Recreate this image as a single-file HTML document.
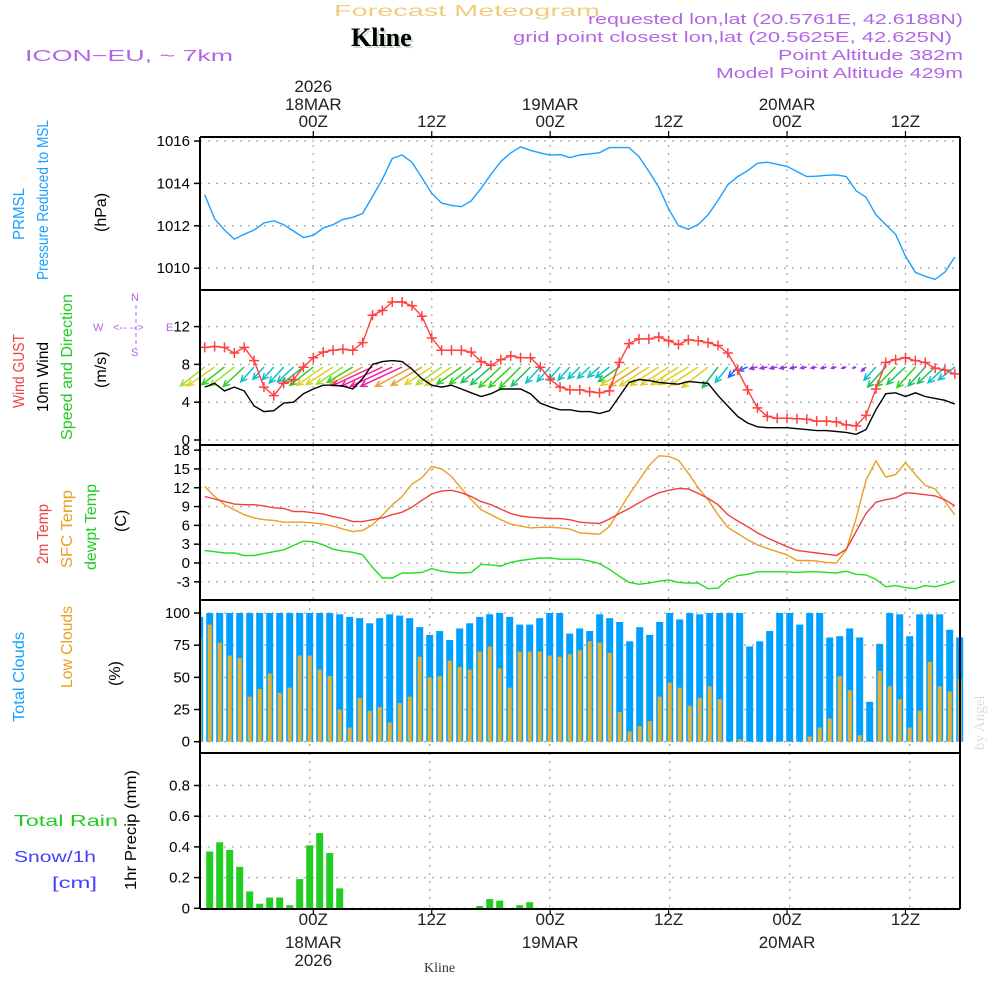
<!DOCTYPE html>
<html><head><meta charset="utf-8"><style>
html,body{margin:0;padding:0;background:#fff;}
svg{display:block;font-family:"Liberation Sans",sans-serif;}
</style></head><body>
<svg id="chart" width="1000" height="1000" viewBox="0 0 1000 1000">
<g>
<text x="334" y="16" fill="#f2cc80" font-size="16" textLength="266" lengthAdjust="spacingAndGlyphs">Forecast Meteogram</text>
<text x="353" y="48" fill="#c9dcc9" font-family="Liberation Serif,serif" font-weight="bold" font-size="26">Kline</text>
<text x="351" y="46" fill="#000" font-family="Liberation Serif,serif" font-weight="bold" font-size="26">Kline</text>
<text x="25" y="61" fill="#b266e6" font-size="16" textLength="208" lengthAdjust="spacingAndGlyphs">ICON−EU, ~ 7km</text>
<text x="963" y="24" fill="#b266e6" font-size="15" text-anchor="end" textLength="375" lengthAdjust="spacingAndGlyphs">requested lon,lat (20.5761E, 42.6188N)</text>
<text x="952" y="42" fill="#b266e6" font-size="15" text-anchor="end" textLength="439" lengthAdjust="spacingAndGlyphs">grid point closest lon,lat (20.5625E, 42.625N)</text>
<text x="963" y="60" fill="#b266e6" font-size="15" text-anchor="end" textLength="185" lengthAdjust="spacingAndGlyphs">Point Altitude 382m</text>
<text x="963" y="78" fill="#b266e6" font-size="15" text-anchor="end" textLength="247" lengthAdjust="spacingAndGlyphs">Model Point Altitude 429m</text>
</g>
<g font-size="16">
<text transform="translate(24,240) rotate(-90)" fill="#1aa0ff" textLength="52" lengthAdjust="spacingAndGlyphs">PRMSL</text>
<text transform="translate(48,280) rotate(-90)" fill="#1aa0ff" textLength="160" lengthAdjust="spacingAndGlyphs">Pressure Reduced to MSL</text>
<text transform="translate(106,232) rotate(-90)" fill="#000">(hPa)</text>
<text transform="translate(24,408) rotate(-90)" fill="#f04040" textLength="74" lengthAdjust="spacingAndGlyphs">Wind GUST</text>
<text transform="translate(48,412) rotate(-90)" fill="#000" textLength="70" lengthAdjust="spacingAndGlyphs">10m Wind</text>
<text transform="translate(72,440) rotate(-90)" fill="#22cc22" textLength="146" lengthAdjust="spacingAndGlyphs">Speed and Direction</text>
<text transform="translate(106,388) rotate(-90)" fill="#000">(m/s)</text>
<g fill="#b266e6" font-size="11">
<text x="93" y="331">W</text><text x="113" y="331">&lt;-- --&gt;</text><text x="166" y="331">E</text>
<line x1="136" y1="305" x2="136" y2="348" stroke="#b266e6" stroke-width="1" stroke-dasharray="4,3"/>
<text x="131" y="301">N</text><text x="131" y="356">S</text>
</g>
<text transform="translate(48,564) rotate(-90)" fill="#f04040" textLength="60" lengthAdjust="spacingAndGlyphs">2m Temp</text>
<text transform="translate(72,568) rotate(-90)" fill="#e8a020" textLength="78" lengthAdjust="spacingAndGlyphs">SFC Temp</text>
<text transform="translate(96,570) rotate(-90)" fill="#22cc22" textLength="86" lengthAdjust="spacingAndGlyphs">dewpt Temp</text>
<text transform="translate(126,532) rotate(-90)" fill="#000">(C)</text>
<text transform="translate(24,722) rotate(-90)" fill="#1aa0ff" textLength="90" lengthAdjust="spacingAndGlyphs">Total Clouds</text>
<text transform="translate(72,688) rotate(-90)" fill="#e8a020" textLength="82" lengthAdjust="spacingAndGlyphs">Low Clouds</text>
<text transform="translate(120,686) rotate(-90)" fill="#000">(%)</text>
<text x="14" y="826" fill="#22cc22" textLength="104" lengthAdjust="spacingAndGlyphs">Total  Rain</text>
<text x="14" y="862" fill="#4040ff" textLength="82" lengthAdjust="spacingAndGlyphs">Snow/1h</text>
<text x="52" y="888" fill="#4040ff" textLength="45" lengthAdjust="spacingAndGlyphs">[cm]</text>
<text transform="translate(136,890) rotate(-90)" fill="#000" textLength="120" lengthAdjust="spacingAndGlyphs">1hr Precip (mm)</text>
</g>
<text transform="translate(984,750) rotate(-90)" fill="#dcdcdc" font-family="Liberation Serif,serif" font-size="15">by Angel</text>
<text x="424" y="972" font-family="Liberation Serif,serif" font-size="14" fill="#333">Kline</text>
<g id="grid"></g>
<g id="marks"></g>
<g id="axes"></g>
</svg>
<script>
const hours=[];for(let h=-11;h<=65;h++)hours.push(h);
const pressure=[1013.46,1012.33,1011.8,1011.37,1011.6,1011.8,1012.13,1012.24,1012.05,1011.75,1011.45,1011.55,1011.9,1012.05,1012.3,1012.4,1012.58,1013.38,1014.2,1015.18,1015.34,1015.0,1014.27,1013.54,1013.07,1012.96,1012.9,1013.18,1013.77,1014.43,1015.03,1015.44,1015.72,1015.56,1015.44,1015.33,1015.36,1015.22,1015.34,1015.39,1015.45,1015.69,1015.69,1015.69,1015.26,1014.56,1013.82,1012.8,1012.0,1011.84,1012.06,1012.52,1013.2,1013.93,1014.32,1014.6,1014.95,1015.0,1014.9,1014.8,1014.56,1014.32,1014.34,1014.38,1014.4,1014.32,1013.65,1013.35,1012.52,1012.05,1011.6,1010.56,1009.8,1009.62,1009.47,1009.82,1010.53];
const gust=[9.8,9.9,9.8,9.2,9.8,8.4,5.6,4.7,6.0,6.4,7.7,8.7,9.3,9.5,9.6,9.5,10.3,13.2,13.7,14.6,14.6,14.2,13.1,10.8,9.5,9.5,9.5,9.3,8.3,7.9,8.5,8.9,8.7,8.7,7.7,6.4,5.6,5.3,5.3,5.1,5.0,5.2,8.2,10.2,10.7,10.7,10.9,10.5,10.1,10.6,10.5,10.3,10.0,9.2,7.4,5.3,3.4,2.5,2.3,2.3,2.25,2.2,2.0,2.0,1.9,1.6,1.5,2.6,5.4,8.2,8.5,8.7,8.4,8.2,7.6,7.4,7.0];
const wind=[5.6,6.0,5.2,5.6,5.2,3.6,3.0,3.1,3.9,4.0,4.9,5.4,5.8,5.8,5.7,5.4,6.5,8.0,8.3,8.4,8.3,7.5,6.5,5.8,5.6,5.8,5.4,5.0,4.6,4.9,5.4,5.4,5.4,4.9,3.9,3.5,3.2,3.2,3.0,3.0,2.8,3.1,4.6,6.1,6.4,6.3,6.1,6.0,5.9,6.2,6.1,6.0,4.7,3.6,2.5,1.8,1.4,1.3,1.3,1.3,1.2,1.1,1.0,1.0,0.9,0.8,0.6,1.1,3.2,4.9,5.0,4.6,5.0,4.6,4.4,4.2,3.8];
const windDir=[55,58,55,55,50,45,45,45,45,50,55,55,58,60,60,62,65,68,68,68,68,65,62,60,58,58,58,55,55,52,50,50,48,48,45,45,45,45,48,50,52,55,58,60,60,60,60,60,60,62,60,55,40,42,45,70,80,82,82,82,82,82,82,80,80,78,75,50,45,45,48,50,45,45,50,50,55];
const t2m=[10.6,10.2,9.8,9.4,9.3,9.3,9.1,8.8,8.7,8.2,8.2,8.0,7.8,7.4,7.1,6.6,6.6,6.9,7.2,7.7,8.1,8.9,10.0,11.0,11.5,11.6,11.2,10.6,9.8,9.3,8.6,7.9,7.5,7.3,7.2,7.1,7.1,6.9,6.5,6.4,6.3,7.0,7.9,8.7,9.6,10.5,11.2,11.6,11.9,11.8,11.1,10.3,9.3,7.7,6.7,5.8,4.8,4.0,3.3,2.6,2.0,1.8,1.6,1.4,1.2,2.2,5.0,7.9,9.7,10.1,10.4,11.2,11.1,10.9,10.7,10.1,9.1];
const tsfc=[12.2,10.6,9.3,8.5,7.7,7.2,6.9,6.8,6.5,6.5,6.5,6.4,6.2,5.9,5.4,5.0,5.2,6.1,7.6,9.3,10.6,12.6,13.6,15.4,15.0,13.8,11.9,10.1,8.5,7.7,6.9,6.2,5.9,5.6,5.7,5.7,5.6,5.4,4.8,4.7,4.6,5.8,8.4,10.9,13.2,15.5,17.1,17.0,16.4,14.3,12.0,10.1,7.7,5.7,4.7,3.7,2.9,2.3,1.8,1.3,0.4,0.4,0.3,0.1,0.0,2.1,7.1,13.2,16.3,13.7,14.1,16.0,14.1,12.4,11.8,9.8,7.7];
const dewpt=[2.0,1.8,1.6,1.6,1.2,1.2,1.5,1.8,2.1,2.8,3.5,3.4,2.9,2.2,1.9,1.7,1.3,-0.7,-2.4,-2.4,-1.6,-1.6,-1.5,-0.9,-1.3,-1.5,-1.6,-1.5,-0.2,-0.3,-0.5,0.1,0.4,0.6,0.8,0.8,0.6,0.6,0.6,0.3,-0.1,-1.0,-2.1,-3.1,-3.4,-3.2,-2.9,-2.7,-3.1,-3.2,-3.2,-4.1,-4.0,-2.6,-2.0,-1.8,-1.4,-1.4,-1.4,-1.4,-1.5,-1.4,-1.4,-1.5,-1.6,-1.3,-1.8,-1.9,-2.6,-3.8,-3.6,-3.9,-4.1,-3.6,-3.8,-3.4,-2.9];
const totalClouds=[97,100,100,100,100,100,100,100,100,100,100,100,100,100,99,97,96,92,96,99,98,96,89,83,86,79,88,92,97,99,100,97,91,91,96,100,100,84,88,86,99,96,93,78,89,83,93,100,95,100,99,100,100,100,100,74,78,86,100,100,91,100,100,81,82,88,81,31,76,100,99,82,99,99,99,87,81];
const lowClouds=[81,91,77,67,65,35,41,53,38,42,67,67,56,51,25,11,34,24,27,15,30,35,66,50,51,63,58,56,70,74,57,42,70,70,70,67,66,68,71,78,77,69,23,8,12,16,35,46,42,28,34,43,33,0,2,0,0,0,0,0,0,4,11,18,51,40,5,0,55,43,33,11,24,62,43,39,49];
const precip=[0,0.37,0.43,0.38,0.27,0.11,0.03,0.07,0.07,0.02,0.19,0.41,0.49,0.36,0.13,0,0,0,0,0,0,0,0,0,0,0,0,0,0.015,0.06,0.05,0,0.02,0.04,0,0,0,0,0,0,0,0,0,0,0,0,0,0,0,0,0,0,0,0,0,0,0,0,0,0,0,0,0,0,0,0,0,0,0,0,0,0,0,0,0,0,0];
const pTicks=[1010,1012,1014,1016];
const wTicks=[0,4,8,12];
const tTicks=[-3,0,3,6,9,12,15,18];
const cTicks=[0,25,50,75,100];
const rTicks=[0,0.2,0.4,0.6,0.8];
const timeTicks=[0,12,24,36,48,60];
const topLabels=[["2026","18MAR","00Z"],["","","12Z"],["","19MAR","00Z"],["","","12Z"],["","20MAR","00Z"],["","","12Z"]];

const NS="http://www.w3.org/2000/svg";
const L=200,R=960;
const xl=h=>313.3+h*9.87;
const xb=h=>309.7+h*10;
const yP=v=>141+(1016-v)*21.2;
const yW=v=>440-v*9.45;
const yT=v=>563-v*6.27;
const yC=v=>741.7-v*1.287;
const yR=v=>908.3-v*153.5;
function mk(tag,attrs,parent){const e=document.createElementNS(NS,tag);for(const k in attrs)e.setAttribute(k,attrs[k]);parent.appendChild(e);return e;}
const grid=document.getElementById('grid'),marks=document.getElementById('marks'),axes=document.getElementById('axes');
const panels=[{top:137,bot:290,ticks:pTicks,y:yP,fmt:v=>v,x:xl},{top:290,bot:445,ticks:wTicks,y:yW,fmt:v=>v,x:xl},{top:445,bot:600,ticks:tTicks,y:yT,fmt:v=>v,x:xl},{top:600,bot:753,ticks:cTicks,y:yC,fmt:v=>v,x:xb},{top:753,bot:909,ticks:rTicks,y:yR,fmt:v=>v===0?"0":v.toFixed(1),x:xb}];
panels.forEach((p,i)=>{
  p.ticks.forEach(v=>{
    const y=p.y(v);
    const g=mk('line',{x1:L,x2:R,y1:y,y2:y,stroke:'#aaa','stroke-width':1.3,'stroke-dasharray':'2,6'},grid);
    
    
    const tk=mk('line',{x1:L-6,x2:L,y1:y,y2:y,stroke:'#000','stroke-width':1.5},axes);
    
    
    const t=mk('text',{x:L-10,y:y+5,'text-anchor':'end','font-size':15,fill:'#000'},axes);
    t.textContent=p.fmt(v);
    
    
  });
  timeTicks.forEach(h=>{
    const x=p.x(h);
    const g=mk('line',{x1:x,x2:x,y1:p.top,y2:p.bot,stroke:'#aaa','stroke-width':1.3,'stroke-dasharray':'2,6'},grid);
    
    
  });
});
function line(arr,yf,color,name,w){
  const pts=hours.map((h,i)=>xl(h).toFixed(1)+','+yf(arr[i]).toFixed(1)).join(' ');
  const e=mk('polyline',{points:pts,fill:'none',stroke:color,'stroke-width':w||1.4},marks);
  
  
}
line(pressure,yP,'#1aa0ff','pressure-line');
function spdColor(s){if(s<1.7)return'#9a30e8';if(s<2.7)return'#2060ff';if(s<4.3)return'#10c0c8';if(s<5.0)return'#20c060';if(s<5.5)return'#30d020';if(s<5.8)return'#a0e030';if(s<6.4)return'#e0d020';if(s<7.8)return'#e8a030';return'#f0209a';}
hours.forEach((h,i)=>{
  const s=wind[i],d=(windDir[i]-3)*Math.PI/180,len=5.5*s;
  const x0=xl(h),y0=367;
  const dx=-Math.sin(d)*len,dy=Math.cos(d)*len;
  const x1=x0+dx,y1=y0+dy,c=spdColor(s);
  const ux=dx/len,uy=dy/len,hl=Math.min(7,len*0.6);
  const g=mk('g',{stroke:c,'stroke-width':1.5,fill:'none'},marks);
  
  
  mk('line',{x1:x0,y1:y0,x2:x1,y2:y1},g);
  const a1=0.45;
  mk('polyline',{points:`${x1-hl*(ux*Math.cos(a1)-uy*Math.sin(a1))},${y1-hl*(uy*Math.cos(a1)+ux*Math.sin(a1))} ${x1},${y1} ${x1-hl*(ux*Math.cos(-a1)-uy*Math.sin(-a1))},${y1-hl*(uy*Math.cos(-a1)+ux*Math.sin(-a1))}`},g);
});
line(wind,yW,'#000','wind-speed-line');
line(gust,yW,'#ff4040','gust-line');
hours.forEach((h,i)=>{
  const x=xl(h),y=yW(gust[i]);
  const p=mk('path',{d:`M${x-5},${y}H${x+5}M${x},${y-5}V${y+5}`,stroke:'#ff4040','stroke-width':1.5},marks);
  
  
});
line(dewpt,yT,'#22dd22','dewpoint-line');
line(tsfc,yT,'#e8a020','sfc-temp-line');
line(t2m,yT,'#f04040','t2m-line');
hours.forEach((h,i)=>{
  const x=xb(h);
  const b=mk('rect',{x:Math.max(L+1,x-3.5),y:yC(totalClouds[i]),width:Math.min(7,x+3.5-Math.max(L+1,x-3.5)),height:yC(0)-yC(totalClouds[i]),fill:'#00a0ff'},marks);
  
  
  if(lowClouds[i]>0){
  const l=mk('rect',{x:Math.max(L+1,x-2),y:yC(lowClouds[i]),width:x+2-Math.max(L+1,x-2),height:yC(0)-yC(lowClouds[i]),fill:'#e8b030'},marks);
  
  }
  if(precip[i]>0){
  const r=mk('rect',{x:x-3.5,y:yR(precip[i]),width:7,height:yR(0)-yR(precip[i]),fill:'#22cc22'},marks);
  
  }
});
[[L,137,L,909],[R,137,R,909],[L,137,R,137],[L,909,R,909],[L,290,R,290],[L,445,R,445],[L,600,R,600],[L,753,R,753]].forEach(c=>{
  const e=mk('line',{x1:c[0],y1:c[1],x2:c[2],y2:c[3],stroke:'#000','stroke-width':2},axes);
  
  
});
timeTicks.forEach((h,i)=>{
  const x=xl(h);
  mk('line',{x1:x,x2:x,y1:131,y2:137,stroke:'#000','stroke-width':1.2},axes);
  mk('line',{x1:x,x2:x,y1:909,y2:915,stroke:'#000','stroke-width':1.2},axes);
  const lab=topLabels[i];
  [[lab[0],92],[lab[1],110],[lab[2],127]].forEach(([s,y])=>{if(!s)return;
    const t=mk('text',{x:x,y:y,'text-anchor':'middle','font-size':17,fill:'#222'},axes);t.textContent=s;
    
    });
  [[lab[2],925],[lab[1],948],[lab[0],966]].forEach(([s,y])=>{if(!s)return;
    const t=mk('text',{x:x,y:y,'text-anchor':'middle','font-size':17,fill:'#222'},axes);t.textContent=s;
    
    });
});
</script>
</body></html>
